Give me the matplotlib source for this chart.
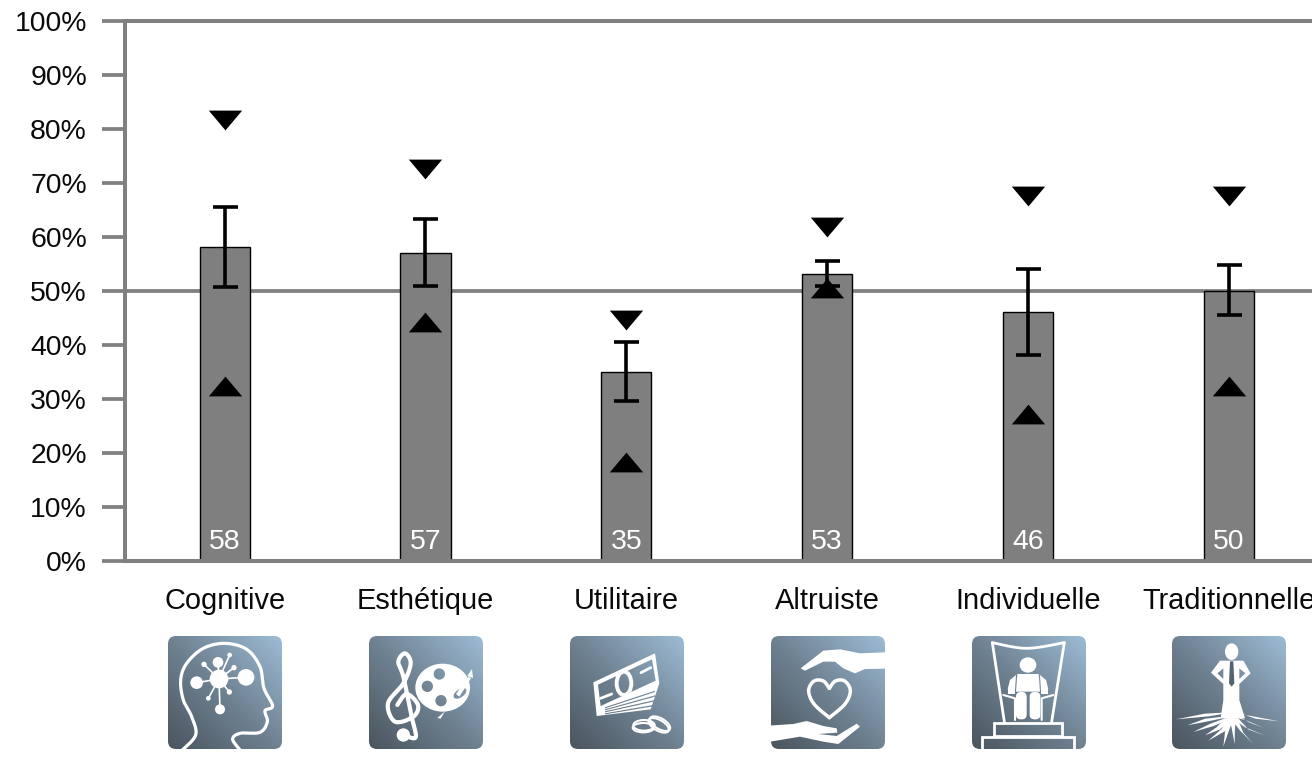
import numpy as np
import matplotlib
matplotlib.use('Agg')
import matplotlib.pyplot as plt
from matplotlib.patches import Circle, Ellipse, FancyBboxPatch, Polygon, Rectangle
from matplotlib.path import Path
from matplotlib.patches import PathPatch
from matplotlib.transforms import Affine2D
from matplotlib.colors import LinearSegmentedColormap

plt.rcParams['font.family'] = ['Liberation Sans', 'DejaVu Sans']

categories = ['Cognitive', 'Esthétique', 'Utilitaire', 'Altruiste', 'Individuelle', 'Traditionnelle']
values = [58, 57, 35, 53, 46, 50]
err_low = [50.7, 50.9, 29.6, 50.9, 38.0, 45.4]
err_high = [65.5, 63.3, 40.5, 55.4, 54.0, 54.8]
tri_up = [32.3, 44.2, 18.3, 50.5, 27.1, 32.3]
tri_down = [81.6, 72.6, 44.6, 61.7, 67.6, 67.6]
y_ticks = [0, 10, 20, 30, 40, 50, 60, 70, 80, 90, 100]

GREY = '#808080'
W, H = 1312, 759

fig = plt.figure(figsize=(W / 100, H / 100), dpi=100, facecolor='white')
ax = fig.add_axes([124.6 / W, 1 - 560.6 / H, 1 - 124.6 / W, 540 / H])

x = np.arange(len(categories))
ax.axhline(50, color=GREY, lw=2.7, zorder=1)
ax.bar(x, values, width=0.25, color='#7f7f7f', edgecolor='black', linewidth=1.0, zorder=2)
ax.errorbar(x, values,
            yerr=[np.array(values) - np.array(err_low), np.array(err_high) - np.array(values)],
            fmt='none', ecolor='black', elinewidth=2.6, capsize=9, capthick=2.6, zorder=3)

up = [(-16, -9.5), (16, -9.5), (0, 9.5)]
down = [(-16, 9.5), (16, 9.5), (0, -9.5)]
ax.plot(x, tri_up, ls='none', marker=up, ms=24, mfc='black', mec='none', zorder=4)
ax.plot(x, tri_down, ls='none', marker=down, ms=24, mfc='black', mec='none', zorder=4)

for i, v in enumerate(values):
    ax.text(i, 3.5, str(v), color='white', fontsize=20.4, ha='center', va='center', zorder=5)

ax.set_xlim(-0.498, 5.415)
ax.set_ylim(0, 100)
ax.set_yticks(y_ticks)
ax.set_yticklabels([f'{t}%' for t in y_ticks], fontsize=20.4, color='#0a0a0a')
ax.set_xticks(x)
ax.set_xticklabels(categories, fontsize=20.9, color='#0a0a0a')
ax.tick_params(axis='y', length=16.6, width=2.7, color=GREY, pad=10.5)
ax.tick_params(axis='x', length=0, pad=19.3)
for side in ['left', 'top', 'bottom']:
    ax.spines[side].set_color(GREY)
    ax.spines[side].set_linewidth(2.9)
ax.spines['right'].set_visible(False)

# icons under the chart, in pixel coordinates
ov = fig.add_axes([0, 0, 1, 1], facecolor='none')
ov.set_axis_off()

cmap = LinearSegmentedColormap.from_list('icon', ['#4a555f', '#6f8292', '#9cbbd5'])
gx, gy = np.meshgrid(np.linspace(0, 1, 60), np.linspace(0, 1, 60))
grad = (gx + gy) / 2
order = [10]


def next_z():
    order[0] += 1
    return order[0]


def fill_grad(left, top, clip):
    im = ov.imshow(grad, cmap=cmap, origin='lower', vmin=0, vmax=1, aspect='auto',
                   extent=(left, left + 114, top + 114, top), zorder=next_z(), interpolation='bilinear')
    im.set_clip_path(clip)


def smooth(pts, closed=False, n=10):
    # catmull-rom, goes through the points it is given
    pts = np.array(pts, dtype=float)
    if closed:
        pts = np.vstack([pts[-1], pts, pts[0], pts[1]])
    else:
        pts = np.vstack([pts[0], pts, pts[-1]])
    out = []
    for i in range(1, len(pts) - 2):
        p0, p1, p2, p3 = pts[i - 1], pts[i], pts[i + 1], pts[i + 2]
        for t in np.linspace(0, 1, n, endpoint=False):
            out.append(0.5 * (2 * p1 + (p2 - p0) * t + (2 * p0 - 5 * p1 + 4 * p2 - p3) * t ** 2
                              + (3 * p1 - p0 - 3 * p2 + p3) * t ** 3))
    out.append(pts[-2])
    return np.array(out)


class Icon:
    # shapes are given in the 3x crop coordinates, cx is the crop left edge
    def __init__(self, left, cx):
        self.left = left
        self.top = 636
        self.tr = Affine2D().scale(1 / 3).translate(cx, 620) + ov.transData
        self.box = FancyBboxPatch((left + 8, self.top + 8), 98, 97, boxstyle='round,pad=8,rounding_size=8',
                                  transform=ov.transData, fc='none', ec='none')
        fill_grad(left, self.top, self.box)

    def add(self, p):
        p.set_transform(self.tr)
        p.set_zorder(next_z())
        ov.add_patch(p)
        p.set_clip_path(self.box)
        return p

    def line(self, pts, lw, curve=True):
        pts = np.array(pts, dtype=float)
        if curve:
            pts = smooth(pts)
        self.add(PathPatch(Path(pts), fc='none', ec='white', lw=lw, capstyle='round', joinstyle='round'))

    def shape(self, pts, curve=False):
        pts = np.array(pts, dtype=float)
        if curve:
            pts = smooth(pts, closed=True)
        self.add(Polygon(pts, closed=True, fc='white', ec='none'))

    def hole(self, p):
        p.set_transform(self.tr)
        fill_grad(self.left, self.top, p)

    def dot(self, cx, cy, r):
        self.add(Circle((cx, cy), r, fc='white', ec='none'))

    def ell(self, cx, cy, rx, ry, lw=None, angle=0):
        if lw is None:
            self.add(Ellipse((cx, cy), 2 * rx, 2 * ry, angle=angle, fc='white', ec='none'))
        else:
            self.add(Ellipse((cx, cy), 2 * rx, 2 * ry, angle=angle, fc='none', ec='white', lw=lw))

    def root(self, start, mid, end, w):
        start, mid, end = np.array(start, float), np.array(mid, float), np.array(end, float)
        self.shape([start + (-w, 0), mid + (-w / 2, -w / 3), end, mid + (w / 2, w / 3), start + (w, 0)])


# Cognitive
ic = Icon(168, 150)
ic.line([(95, 392), (137, 345), (125, 290), (100, 240), (92, 180), (110, 130), (160, 85), (225, 70), (290, 88),
         (330, 140), (342, 205), (368, 258), (345, 272), (352, 305), (330, 337), (270, 340), (248, 358), (272, 392)], 2.3)
node_x = [140, 288, 204, 162, 239, 252, 175, 238, 210]
node_y = [188, 172, 127, 133, 105, 143, 235, 216, 268]
node_r = [19, 25, 16, 8, 7, 8, 7, 8, 15]
for nx, ny, nr in zip(node_x, node_y, node_r):
    ic.line([(207, 177), (nx, ny)], 1.2, curve=False)
    ic.dot(nx, ny, nr)
ic.dot(207, 177, 28)

# Esthetique
ic = Icon(369, 150)
ic.line([(762, 345), (797, 352), (785, 290), (760, 170), (745, 125), (765, 100), (782, 130), (760, 190), (714, 250),
         (735, 305), (790, 290), (804, 255), (770, 222), (742, 255)], 3.0)
ic.dot(760, 345, 20)
ic.ell(878, 203, 82, 72)
ic.shape([(862, 294), (885, 274), (872, 296)])
for hx, hy, hr in [(868, 162, 17), (832, 199, 17), (873, 242, 17)]:
    ic.hole(Circle((hx, hy), hr))
ic.hole(Ellipse((930, 220), 44, 24, angle=-35))
ic.shape([(918, 222), (955, 170), (963, 175), (928, 230)])
ic.shape([(952, 168), (966, 147), (969, 174)])

# Utilitaire
ic = Icon(570, 560)
ic.shape([(100, 187), (285, 100), (298, 190), (272, 268), (110, 288)])
ic.hole(Polygon([(114, 194), (276, 118), (287, 182), (122, 258)]))
ic.line([(155, 222), (122, 235)], 2.0, curve=False)
ic.line([(272, 143), (243, 158)], 2.0, curve=False)
ic.ell(192, 190, 22, 35, lw=2.8)
for by, ey in [(262, 212), (268, 226), (274, 240), (280, 254)]:
    ic.hole(Polygon([(135, by), (285, ey), (285, ey + 4), (135, by + 3)]))
ic.ell(252, 316, 32, 16, lw=1.5)
ic.ell(250, 323, 32, 14, lw=1.5)
ic.ell(300, 311, 34, 16, lw=1.5, angle=30)
ic.ell(296, 316, 34, 16, lw=1.5, angle=30)

# Altruiste
ic = Icon(771, 560)
ic.shape([(722, 145), (790, 92), (840, 88), (900, 100), (975, 97), (975, 146), (915, 147), (885, 160), (850, 145),
          (825, 125), (790, 125), (735, 152)])
ic.shape([(625, 317), (700, 312), (740, 303), (790, 318), (830, 325), (832, 338), (775, 342), (830, 348), (890, 311),
          (900, 320), (835, 372), (790, 365), (720, 350), (625, 366)])
ic.line([(808, 205), (790, 183), (762, 183), (746, 212), (762, 252), (808, 293)], 2.5)
ic.line([(808, 205), (826, 183), (854, 183), (871, 212), (855, 252), (808, 293)], 2.5)

# Individuelle
ic = Icon(972, 960)
ic.line([(97, 68), (200, 85), (313, 68)], 2.0)
ic.line([(97, 68), (133, 305)], 2.0, curve=False)
ic.line([(313, 68), (275, 305)], 2.0, curve=False)
ic.line([(130, 225), (165, 235), (165, 300)], 1.5, curve=False)
ic.line([(280, 225), (245, 235), (245, 300)], 1.5, curve=False)
ic.add(Rectangle((102, 308), 203, 40, fc='none', ec='white', lw=2.0))
ic.add(Rectangle((65, 352), 278, 60, fc='none', ec='white', lw=2.0))
ic.ell(204, 135, 25, 23)
ic.shape([(172, 162), (236, 162), (240, 215), (168, 215)])
ic.shape([(168, 165), (150, 180), (143, 208), (165, 212)])
ic.shape([(240, 165), (258, 180), (265, 208), (243, 212)])
ic.add(Rectangle((144, 208), 20, 14, fc='white', ec='none'))
ic.add(Rectangle((244, 208), 20, 14, fc='white', ec='none'))
ic.add(FancyBboxPatch((168, 216), 32, 82, boxstyle='round,pad=0,rounding_size=14', fc='white', ec='none'))
ic.add(FancyBboxPatch((209, 216), 32, 82, boxstyle='round,pad=0,rounding_size=14', fc='white', ec='none'))

# Traditionnelle
ic = Icon(1172, 960)
ic.ell(815, 95, 20, 25)
ic.shape([(780, 122), (850, 122), (872, 160), (838, 192), (838, 240), (855, 295), (782, 295), (790, 240), (790, 192), (753, 158)])
ic.hole(Polygon([(790, 145), (772, 160), (790, 177)]))
ic.hole(Polygon([(838, 145), (856, 160), (838, 177)]))
ic.add(Polygon([(810, 124), (820, 124), (823, 190), (815, 200), (807, 190)], fc='#55636f', ec='none'))
ic.root((800, 278), (740, 285), (648, 298), 12)
ic.root((825, 278), (880, 292), (957, 304), 12)
ic.root((800, 290), (740, 300), (682, 316), 11)
ic.root((805, 295), (755, 315), (700, 336), 10)
ic.root((805, 295), (775, 325), (735, 346), 10)
ic.root((810, 300), (790, 330), (745, 362), 10)
ic.root((812, 295), (800, 335), (790, 380), 9)
ic.root((818, 295), (820, 330), (824, 372), 9)
ic.root((822, 295), (845, 335), (880, 372), 10)
ic.root((825, 295), (860, 325), (915, 347), 10)
ic.root((828, 290), (865, 305), (912, 324), 10)

ov.set_xlim(0, W)
ov.set_ylim(H, 0)

fig.savefig('out.png', dpi=100)
